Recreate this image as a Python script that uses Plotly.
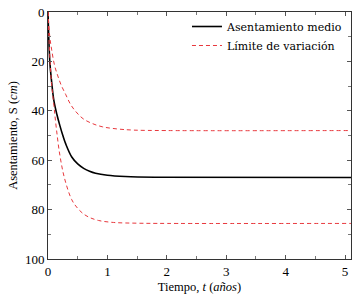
import plotly.graph_objects as go

# Asentamiento medio
t_mean = [0, 0.03, 0.06, 0.1, 0.15, 0.2, 0.25, 0.3, 0.4, 0.5, 0.6, 0.7, 0.8, 1.0, 1.3, 1.8, 5.1]
s_mean = [0, 20, 28, 36, 41.5, 46, 50, 53.5, 58.7, 61.5, 63.3, 64.5, 65.3, 66.1, 66.6, 66.9, 67]

# Límite de variación (superior, asentamiento menor)
t_low = [0, 0.03, 0.06, 0.11, 0.16, 0.22, 0.3, 0.37, 0.45, 0.59, 0.75, 0.92, 1.15, 1.43, 2.0, 5.1]
s_low = [0, 10, 15, 21.6, 25.5, 29.5, 33.5, 37, 39.8, 43.2, 45.2, 46.5, 47.3, 47.8, 48, 48]

# Límite de variación (inferior, asentamiento mayor)
t_high = [0, 0.02, 0.06, 0.1, 0.14, 0.2, 0.28, 0.4, 0.5, 0.6, 0.7, 0.85, 1.1, 1.5, 2.0, 5.1]
s_high = [0, 13, 29, 38, 47, 58, 67.5, 76, 79.5, 81.8, 83.2, 84.4, 85.2, 85.5, 85.6, 85.6]

x_ticks = [0, 1, 2, 3, 4, 5]
y_ticks = [0, 20, 40, 60, 80, 100]

FONT = "'Liberation Serif', 'DejaVu Serif', serif"
LEG_FONT = "'DejaVu Serif', serif"
RED = "#e8383d"

fig = go.Figure()
fig.add_trace(go.Scatter(x=t_mean, y=s_mean, mode="lines", name="Asentamiento medio",
                         line=dict(color="black", width=1.6, shape="spline")))
fig.add_trace(go.Scatter(x=t_low, y=s_low, mode="lines", name="Límite de variación",
                         line=dict(color=RED, width=1, dash="4px,3px", shape="spline"),
                         legendgroup="lim"))
fig.add_trace(go.Scatter(x=t_high, y=s_high, mode="lines", name="Límite de variación",
                         line=dict(color=RED, width=1, dash="4px,3px", shape="spline"),
                         legendgroup="lim", showlegend=False))

axis_common = dict(
    showgrid=False, zeroline=False, showline=True, linecolor="#333", linewidth=1,
    mirror="allticks", ticks="inside", ticklen=4, tickcolor="#555", tickwidth=1,
    ticklabeloverflow="allow",
    tickfont=dict(family=FONT, size=13, color="black"),
)

fig.update_layout(
    width=358, height=297,
    margin=dict(l=48, r=7, t=5, b=38),
    paper_bgcolor="white", plot_bgcolor="white",
    font=dict(family=FONT, size=12, color="black"),
    showlegend=True,
    legend=dict(x=0.99, y=1.0, xanchor="right", yanchor="top",
                bgcolor="rgba(0,0,0,0)", borderwidth=0,
                font=dict(family=LEG_FONT, size=11), tracegroupgap=0,
                itemwidth=30),
    xaxis=dict(range=[0, 5.1], tickvals=x_ticks,
               minor=dict(dtick=0.5, ticks="inside", ticklen=3, tickcolor="#777"),
               title=dict(text="Tiempo, <i>t</i> (<i>años</i>)", standoff=4,
                          font=dict(family=FONT, size=12.5)),
               **axis_common),
    yaxis=dict(range=[100, 0], tickvals=y_ticks,
               minor=dict(dtick=10, ticks="inside", ticklen=3, tickcolor="#777"),
               title=dict(text="Asentamiento, S (<i>cm</i>)", standoff=4,
                          font=dict(family=FONT, size=12.5)),
               **axis_common),
)

fig.write_html("out.html",
               config={"displayModeBar": False},
               post_script="document.body.style.margin='0';document.body.style.overflow='hidden';")
